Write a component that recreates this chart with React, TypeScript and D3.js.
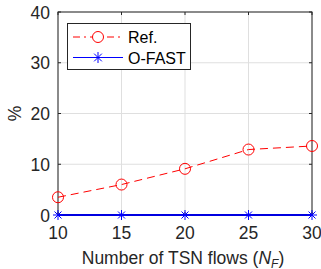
import React from "react";
import * as d3 from "d3";

const flows = [10, 15, 20, 25, 30];
const refValues = [3.5, 6.0, 9.1, 12.9, 13.6];
const ofastValues = [0, 0, 0, 0, 0];
const xTicks = [10, 15, 20, 25, 30];
const yTicks = [0, 10, 20, 30, 40];

const W = 321, H = 269;
const M = { left: 58, right: 312, top: 12, bottom: 215 };
const FONT = "Liberation Sans, Arial, Helvetica, sans-serif";
const AX = "#262626";

export default function App() {
  const x = d3.scaleLinear().domain([10, 30]).range([M.left, M.right]);
  const y = d3.scaleLinear().domain([0, 40]).range([M.bottom, M.top]);
  const line = d3.line<number>().x((_, i) => x(flows[i])).y((d) => y(d));
  const star = (cx: number, cy: number, r: number, color: string, key: string) => (
    <g key={key} stroke={color} strokeWidth={1}>
      <line x1={cx - r} y1={cy} x2={cx + r} y2={cy} />
      <line x1={cx} y1={cy - r} x2={cx} y2={cy + r} />
      <line x1={cx - r * 0.7} y1={cy - r * 0.7} x2={cx + r * 0.7} y2={cy + r * 0.7} />
      <line x1={cx - r * 0.7} y1={cy + r * 0.7} x2={cx + r * 0.7} y2={cy - r * 0.7} />
    </g>
  );
  return (
    <svg width={W} height={H} style={{ position: "absolute", left: 0, top: 0, background: "#fff" }} fontFamily={FONT}>
      <rect x={0} y={0} width={W} height={H} fill="#fff" />
      {/* grid */}
      {xTicks.map((t) => (
        <line key={"gx" + t} x1={x(t)} x2={x(t)} y1={M.top} y2={M.bottom} stroke="#dfdfdf" strokeWidth={1} />
      ))}
      {yTicks.map((t) => (
        <line key={"gy" + t} x1={M.left} x2={M.right} y1={y(t)} y2={y(t)} stroke="#dfdfdf" strokeWidth={1} />
      ))}
      {/* ticks */}
      {xTicks.map((t) => (
        <g key={"tx" + t} stroke={AX}>
          <line x1={x(t)} x2={x(t)} y1={M.bottom} y2={M.bottom - 3} />
          <line x1={x(t)} x2={x(t)} y1={M.top} y2={M.top + 3} />
        </g>
      ))}
      {yTicks.map((t) => (
        <g key={"ty" + t} stroke={AX}>
          <line x1={M.left} x2={M.left + 3} y1={y(t)} y2={y(t)} />
          <line x1={M.right} x2={M.right - 3} y1={y(t)} y2={y(t)} />
        </g>
      ))}
      {/* axes box */}
      <rect x={M.left} y={M.top} width={M.right - M.left} height={M.bottom - M.top} fill="none" stroke={AX} strokeWidth={1} />
      {/* tick labels */}
      {xTicks.map((t) => (
        <text key={"lx" + t} x={x(t)} y={238.5} textAnchor="middle" fontSize={17.5} fill={AX}>{t}</text>
      ))}
      {yTicks.map((t) => (
        <text key={"ly" + t} x={50} y={y(t) + 6.5} textAnchor="end" fontSize={17.5} fill={AX}>{t}</text>
      ))}
      <text transform={`translate(21,${(M.top + M.bottom) / 2}) rotate(-90)`} textAnchor="middle" fontSize={17.5} fill={AX}>%</text>
      <text x={(M.left + M.right) / 2 - 2} y={263.5} textAnchor="middle" fontSize={17.5} fill={AX}>
        Number of TSN flows (<tspan fontStyle="italic">N</tspan><tspan fontStyle="italic" fontSize={12} dy={4}>F</tspan><tspan dy={-4}>)</tspan>
      </text>
      {/* series */}
      <path d={line(refValues) || ""} fill="none" stroke="#ff0000" strokeWidth={1} strokeDasharray="8,5" />
      {refValues.map((v, i) => (
        <circle key={"c" + i} cx={x(flows[i])} cy={y(v)} r={5.5} fill="none" stroke="#ff0000" strokeWidth={1} />
      ))}
      <path d={line(ofastValues) || ""} fill="none" stroke="#0000e0" strokeWidth={1.8} />
      {ofastValues.map((v, i) => star(x(flows[i]), y(v), 5, "#0000ff", "s" + i))}
      {/* legend */}
      <rect x={67.5} y={23.5} width={123} height={46} fill="#fff" stroke={AX} strokeWidth={1} />
      <line x1={73} x2={123} y1={37} y2={37} stroke="#ff0000" strokeWidth={1} strokeDasharray="7,4,2,4" />
      <circle cx={98} cy={37} r={5.5} fill="#fff" stroke="#ff0000" strokeWidth={1} />
      <text x={128} y={43} fontSize={16} fill="#000">Ref.</text>
      <line x1={73} x2={123} y1={57.5} y2={57.5} stroke="#0000ff" strokeWidth={1} />
      {star(98, 57.5, 5.5, "#0000ff", "ls")}
      <text x={128} y={63.5} fontSize={16} fill="#000">O-FAST</text>
    </svg>
  );
}
